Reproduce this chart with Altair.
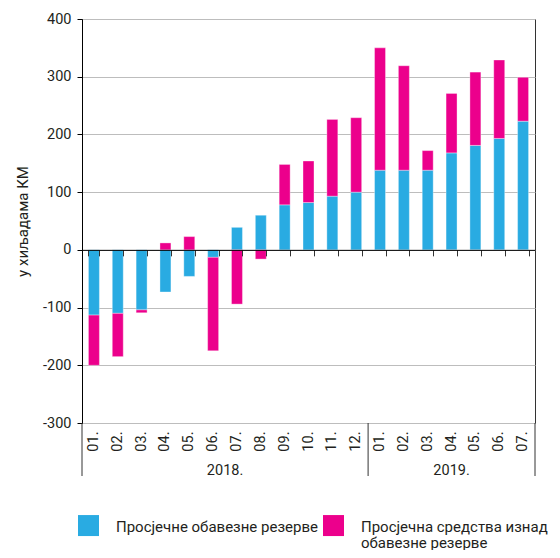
import altair as alt
import pandas as pd

# ---- data (thousands KM) ----
months = ["01.", "02.", "03.", "04.", "05.", "06.", "07.", "08.", "09.", "10.", "11.", "12.",
          "01.", "02.", "03.", "04.", "05.", "06.", "07."]
years = ["2018."] * 12 + ["2019."] * 7
keys = [y[:4] + "-" + m[:2] for y, m in zip(years, months)]
reserves = [-113, -110, -104, -73, -46, -13, 39, 60, 78, 82, 93, 100,
            138, 138, 138, 168, 181, 193, 223]
excess = [-87, -75, -5, 12, 23, -162, -94, -16, 70, 72, 133, 129,
          212, 181, 34, 103, 127, 136, 76]
series_names = ["Просјечне обавезне резерве", "Просјечна средства изнад обавезне резерве"]
series_colors = ["#29ABE2", "#EC008C"]
y_ticks = [-300, -200, -100, 0, 100, 200, 300, 400]
year_labels = ["2018.", "2019."]
year_center_keys = ["2018-06", "2019-04"]
divider_keys = ["2018-12", "2019-07"]

rows = []
for k, b, p in zip(keys, reserves, excess):
    rows.append({"key": k, "series": series_names[0], "value": b, "ord": 0})
    rows.append({"key": k, "series": series_names[1], "value": p, "ord": 1})
df = pd.DataFrame(rows)

W, H = 453, 404
FONT = "Roboto"
TXT = "#231F20"
PAD_IN = 0.54
STEP = W / len(keys)
GAP = STEP * PAD_IN / 2  # pixels from band edge to step boundary

# square legend swatch drawn above the label baseline
SWATCH = "M -1 -1.59 L 1 -1.59 L 1 0.41 L -1 0.41 Z"

xscale = alt.Scale(domain=keys, paddingInner=PAD_IN, paddingOuter=PAD_IN / 2)

bars = alt.Chart(df).mark_bar(stroke="white", strokeWidth=0.5, strokeOpacity=0.7).encode(
    x=alt.X("key:N", scale=xscale,
            axis=alt.Axis(orient="bottom", offset=-H * 300 / 700, labels=False, title=None,
                          domain=True, domainColor="#000", domainWidth=1,
                          ticks=True, tickBand="extent", tickSize=6, tickColor="#333",
                          grid=False, zindex=1)),
    y=alt.Y("value:Q", stack="zero",
            scale=alt.Scale(domain=[-300, 400], nice=False, zero=False),
            axis=alt.Axis(values=y_ticks, title="у хиљадама КМ", grid=True,
                          labelExpr="datum.value < 0 ? '-' + abs(datum.value) : '' + datum.value",
                          gridColor="#BDBDBD", gridWidth=1, domainColor="#000",
                          tickColor="#000", tickSize=5, labelPadding=6,
                          titlePadding=12, labelFontSize=14.5, titleFontSize=15,
                          titleFontWeight="normal")),
    color=alt.Color("series:N", scale=alt.Scale(domain=series_names, range=series_colors),
                    legend=alt.Legend(title=None, orient="none", legendX=-4, legendY=502,
                                      direction="horizontal", symbolType=SWATCH,
                                      symbolSize=441, symbolStrokeWidth=0,
                                      labelFontSize=15, labelFont=FONT, labelColor=TXT,
                                      labelLimit=400, labelOffset=17, columnPadding=5,
                                      padding=0, labelBaseline="alphabetic",
                                      labelExpr="indexof(datum.label, 'средства') > 0 ? ['Просјечна средства изнад', 'обавезне резерве'] : [datum.label, ' ']")),
    order=alt.Order("ord:Q"),
)

year_df = pd.DataFrame({"key": year_center_keys, "label": year_labels})
div_df = pd.DataFrame({"key": divider_keys})
first_df = pd.DataFrame({"key": keys[:1]})

year18 = alt.Chart(year_df.iloc[:1]).mark_text(fontSize=14.5, font=FONT, color=TXT, baseline="alphabetic",
                                               xOffset=GAP).encode(
    x=alt.X("key:N", scale=xscale, bandPosition=1,
            axis=alt.Axis(orient="bottom", title=None, labelExpr="slice(datum.value, 5) + '.'",
                          labelAngle=-90, ticks=False, domain=False, labelPadding=8,
                          labelFontSize=14.5, grid=False)),
    y=alt.value(H + 52),
    text="label:N",
)
year19 = alt.Chart(year_df.iloc[1:]).mark_text(fontSize=14.5, font=FONT, color=TXT, baseline="alphabetic").encode(
    x=alt.X("key:N", scale=xscale, bandPosition=0.5, axis=None),
    y=alt.value(H + 52),
    text="label:N",
)
dividers = alt.Chart(div_df).mark_rule(color="#333", strokeWidth=1, xOffset=GAP).encode(
    x=alt.X("key:N", scale=xscale, bandPosition=1, axis=None),
    y=alt.value(H), y2=alt.value(H + 53),
)
left_div = alt.Chart(first_df).mark_rule(color="#333", strokeWidth=1, xOffset=-GAP).encode(
    x=alt.X("key:N", scale=xscale, bandPosition=0, axis=None),
    y=alt.value(H), y2=alt.value(H + 53),
)

chart = alt.layer(bars, year18, year19, dividers, left_div).resolve_axis(x="independent").properties(
    width=W, height=H, autosize=alt.AutoSizeParams(type="none"),
    padding={"left": 74, "top": 11, "right": 17, "bottom": 127}
).configure(
    style={"guide-label": {"lineHeight": 16}}
).configure_view(stroke="#333").configure_axis(
    labelFont=FONT, titleFont=FONT, labelColor=TXT, titleColor=TXT
)

chart.save("out.html", embed_options={"renderer": "svg", "actions": False})
